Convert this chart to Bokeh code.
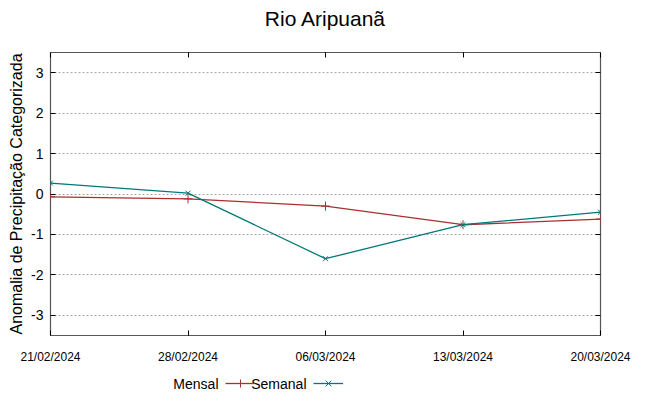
from datetime import datetime
from bokeh.plotting import figure
from bokeh.layouts import column
from bokeh.models import (FixedTicker, DatetimeTickFormatter, NumeralTickFormatter, LinearAxis,
                          Range1d, Legend, LegendItem, Label)
from bokeh.embed import file_html
from bokeh.resources import INLINE

dates = ["21/02/2024", "28/02/2024", "06/03/2024", "13/03/2024", "20/03/2024"]
mensal = [-0.07, -0.12, -0.30, -0.76, -0.62]
semanal = [0.27, 0.02, -1.60, -0.76, -0.45]
y_ticks = [-3, -2, -1, 0, 1, 2, 3]
series_names = ["Mensal", "Semanal"]
title_text = "Rio Aripuanã"

x = [datetime.strptime(d, "%d/%m/%Y") for d in dates]
x_ms = [dt.timestamp() * 1000 for dt in x]

FONT = "Liberation Sans"
red = "#a83030"
teal = "#007878"


def strip(height):
    f = figure(width=649, height=height, output_backend="svg", toolbar_location=None,
               x_axis_location=None, y_axis_location=None, min_border=0,
               x_range=Range1d(0, 1), y_range=Range1d(10, 11))
    f.outline_line_color = None
    f.xgrid.grid_line_color = None
    f.ygrid.grid_line_color = None
    return f


# title strip (its frame is aligned with the main frame by the column layout)
tt = strip(36)
tt.add_layout(Label(x=275, y=18, x_units="screen", y_units="screen", text=title_text,
                    text_align="center", text_baseline="middle",
                    text_font=FONT, text_font_size="21px", text_color="#000000"))

p = figure(width=649, height=330, output_backend="svg", toolbar_location=None,
           x_axis_type="datetime", x_range=Range1d(x_ms[0], x_ms[-1]),
           y_range=Range1d(-3.5, 3.5),
           min_border_left=50, min_border_right=49, min_border_top=16, min_border_bottom=31)

p.outline_line_color = "#555555"
p.outline_line_width = 1.2

p.xgrid.grid_line_color = None
p.ygrid.grid_line_color = "#a8a8a8"
p.ygrid.grid_line_dash = "2 2"
p.ygrid.ticker = FixedTicker(ticks=y_ticks)

xa = p.xaxis[0]
xa.ticker = FixedTicker(ticks=x_ms)
xa.formatter = DatetimeTickFormatter(days="%d/%m/%Y", months="%d/%m/%Y", hours="%d/%m/%Y")
xa.major_label_text_font = FONT
xa.major_label_text_font_size = "12px"
xa.major_label_standoff = 14
ya = p.yaxis[0]
ya.ticker = FixedTicker(ticks=y_ticks)
ya.formatter = NumeralTickFormatter(format="0")
ya.axis_label = "Anomalia de Precipitação Categorizada"
ya.axis_label_text_font = FONT
ya.axis_label_text_font_size = "16px"
ya.axis_label_text_font_style = "normal"
ya.axis_label_text_color = "#000000"
ya.axis_label_standoff = 3
ya.major_label_text_font = FONT
ya.major_label_text_font_size = "14px"
ya.major_label_standoff = 7

for ax in (xa, ya):
    ax.axis_line_color = None
    ax.major_tick_in = 5
    ax.major_tick_out = 0
    ax.minor_tick_line_color = None
    ax.major_tick_line_color = "#000000"
    ax.major_label_text_color = "#000000"

top = LinearAxis(ticker=FixedTicker(ticks=x_ms), major_label_text_color=None,
                 major_label_text_font_size="1px",
                 axis_line_color=None, major_tick_in=5, major_tick_out=0,
                 minor_tick_line_color=None, major_label_standoff=0)
right = LinearAxis(ticker=FixedTicker(ticks=y_ticks), major_label_text_color=None,
                   major_label_text_font_size="1px",
                   axis_line_color=None, major_tick_in=5, major_tick_out=0,
                   minor_tick_line_color=None, major_label_standoff=0)
p.add_layout(top, "above")
p.add_layout(right, "right")

p.line(x_ms, mensal, line_color=red, line_width=1.3)
p.scatter(x_ms, mensal, marker="cross", size=9, line_color=red, line_width=1)
p.line(x_ms, semanal, line_color=teal, line_width=1.3)
p.scatter(x_ms, semanal, marker="x", size=7, line_color=teal, line_width=1)

# legend strip (text first, then sample, as in the reference)
lg = strip(30)
# same series, outside this strip's view: only used for the legend samples
sl1 = lg.line(x_ms, mensal, line_color=red, line_width=1.3)
sm1 = lg.scatter(x_ms, mensal, marker="cross", size=9, line_color=red, line_width=1)
sl2 = lg.line(x_ms, semanal, line_color=teal, line_width=1.3)
sm2 = lg.scatter(x_ms, semanal, marker="x", size=7, line_color=teal, line_width=1)

for name, rends, lx, gx in [(series_names[0], [sl1, sm1], 168, 175),
                             (series_names[1], [sl2, sm2], 256, 263)]:
    lg.add_layout(Label(x=lx, y=13, x_units="screen", y_units="screen", text=name,
                        text_align="right", text_baseline="middle",
                        text_font=FONT, text_font_size="14px", text_color="#000000"))
    lg.add_layout(Legend(items=[LegendItem(label=" ", renderers=rends)],
                         location=(gx, 3), glyph_width=30, glyph_height=20,
                         label_standoff=0, label_width=0, padding=0, margin=0, spacing=0,
                         label_text_font_size="1px",
                         border_line_color=None, background_fill_alpha=0))

open("out.html", "w").write(file_html(column(tt, p, lg, spacing=0), INLINE))
